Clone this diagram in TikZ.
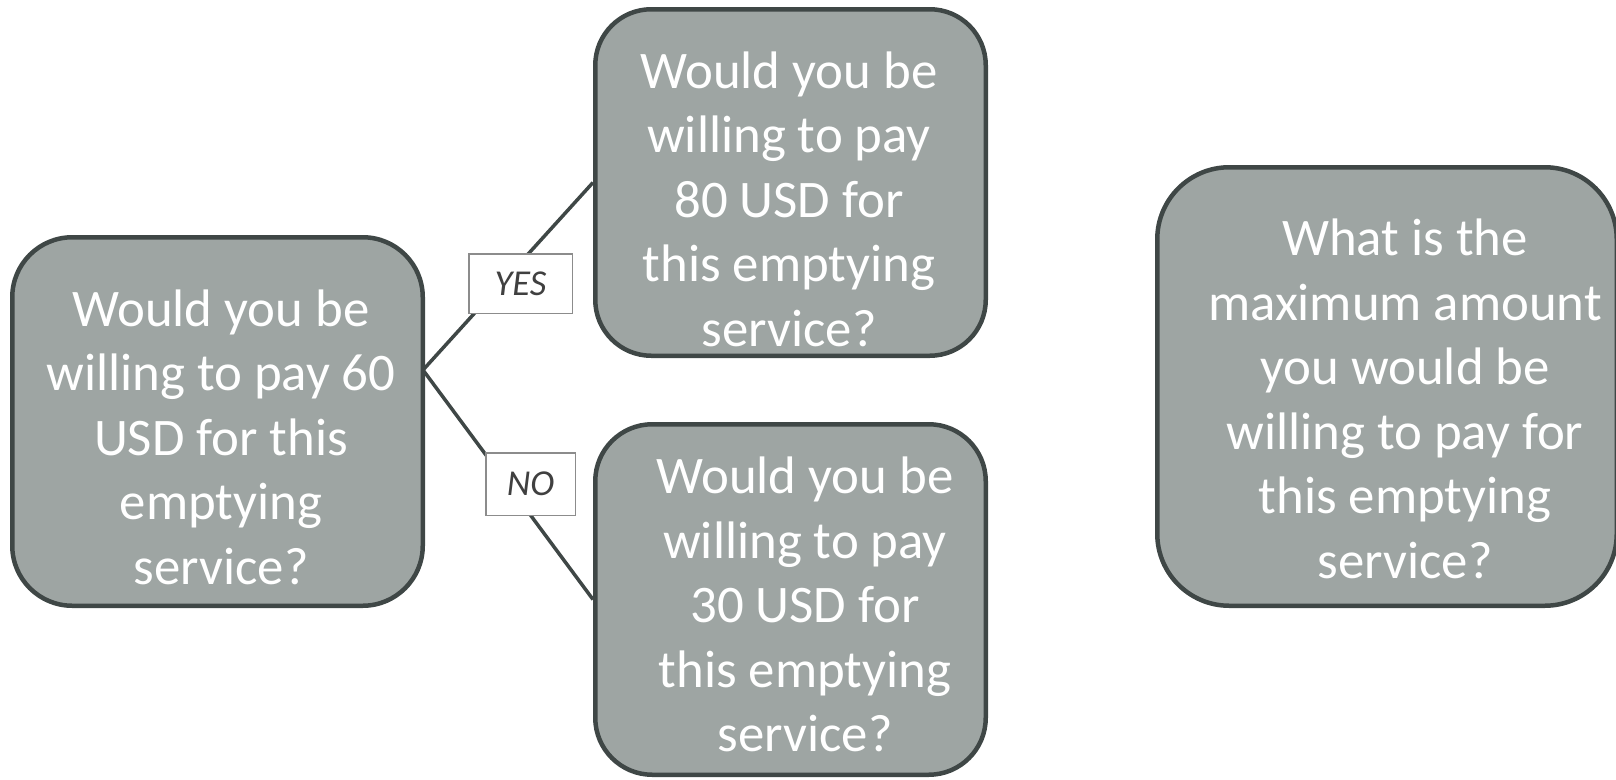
\documentclass[tikz,border=0pt]{standalone}
\usepackage{fontspec}
\setmainfont{Carlito}

\definecolor{boxfill}{HTML}{9EA5A3}
\definecolor{boxline}{HTML}{3F4746}
\definecolor{tagline}{HTML}{8C8C8C}
\definecolor{tagtext}{HTML}{404040}

\tikzset{
  question/.style={draw=boxline, fill=boxfill, line width=4.5pt},
  qtext/.style={text=white, align=center, inner sep=0pt,
    font=\fontsize{52.8}{64.5}\selectfont},
  link/.style={draw=boxline, line width=3.5pt},
  answer/.style={draw=tagline, fill=white, line width=1.5pt, inner sep=0pt,
    text=tagtext, font=\fontsize{36.5}{40}\selectfont\itshape}
}

\begin{document}
\begin{tikzpicture}[x=1pt, y=-1pt]
    \useasboundingbox (0,0) rectangle (1616,779);

    % question boxes
    \node[question, minimum width=410.5pt, minimum height=368.5pt, rounded corners=60pt] (q60) at (217.5,421.5) {};
    \node[question, minimum width=390.5pt, minimum height=346.5pt, rounded corners=56pt] (q80) at (790.5,182.5) {};
    \node[question, minimum width=390.5pt, minimum height=350.5pt, rounded corners=57pt] (q30) at (790.5,599.5) {};
    \node[question, minimum width=459.5pt, minimum height=438.5pt, rounded corners=72pt] (qmax) at (1387,386.5) {};

    % question texts
    \node[qtext] (q60text) at (221,437) {Would you be\\willing to pay 60\\USD for this\\emptying\\service?};
    \node[qtext] (q80text) at (789,199) {Would you be\\willing to pay\\80 USD for\\this emptying\\service?};
    \node[qtext] (q30text) at (805,604.5) {Would you be\\willing to pay\\30 USD for\\this emptying\\service?};
    \node[qtext] (qmaxtext) at (1405,399) {What is the\\maximum amount\\you would be\\willing to pay for\\this emptying\\service?};

    % branches
    \coordinate (fork) at (423,370);
    \draw[link] (fork) -- (q80.west);
    \draw[link] (fork) -- (q30.west);

    % answers
    \node[answer, minimum width=103.5pt, minimum height=59.5pt] (yes) at (520.5,283.5) {YES};
    \node[answer, minimum width=89.5pt, minimum height=62.5pt] (no) at (530.5,484) {NO};
\end{tikzpicture}
\end{document}
